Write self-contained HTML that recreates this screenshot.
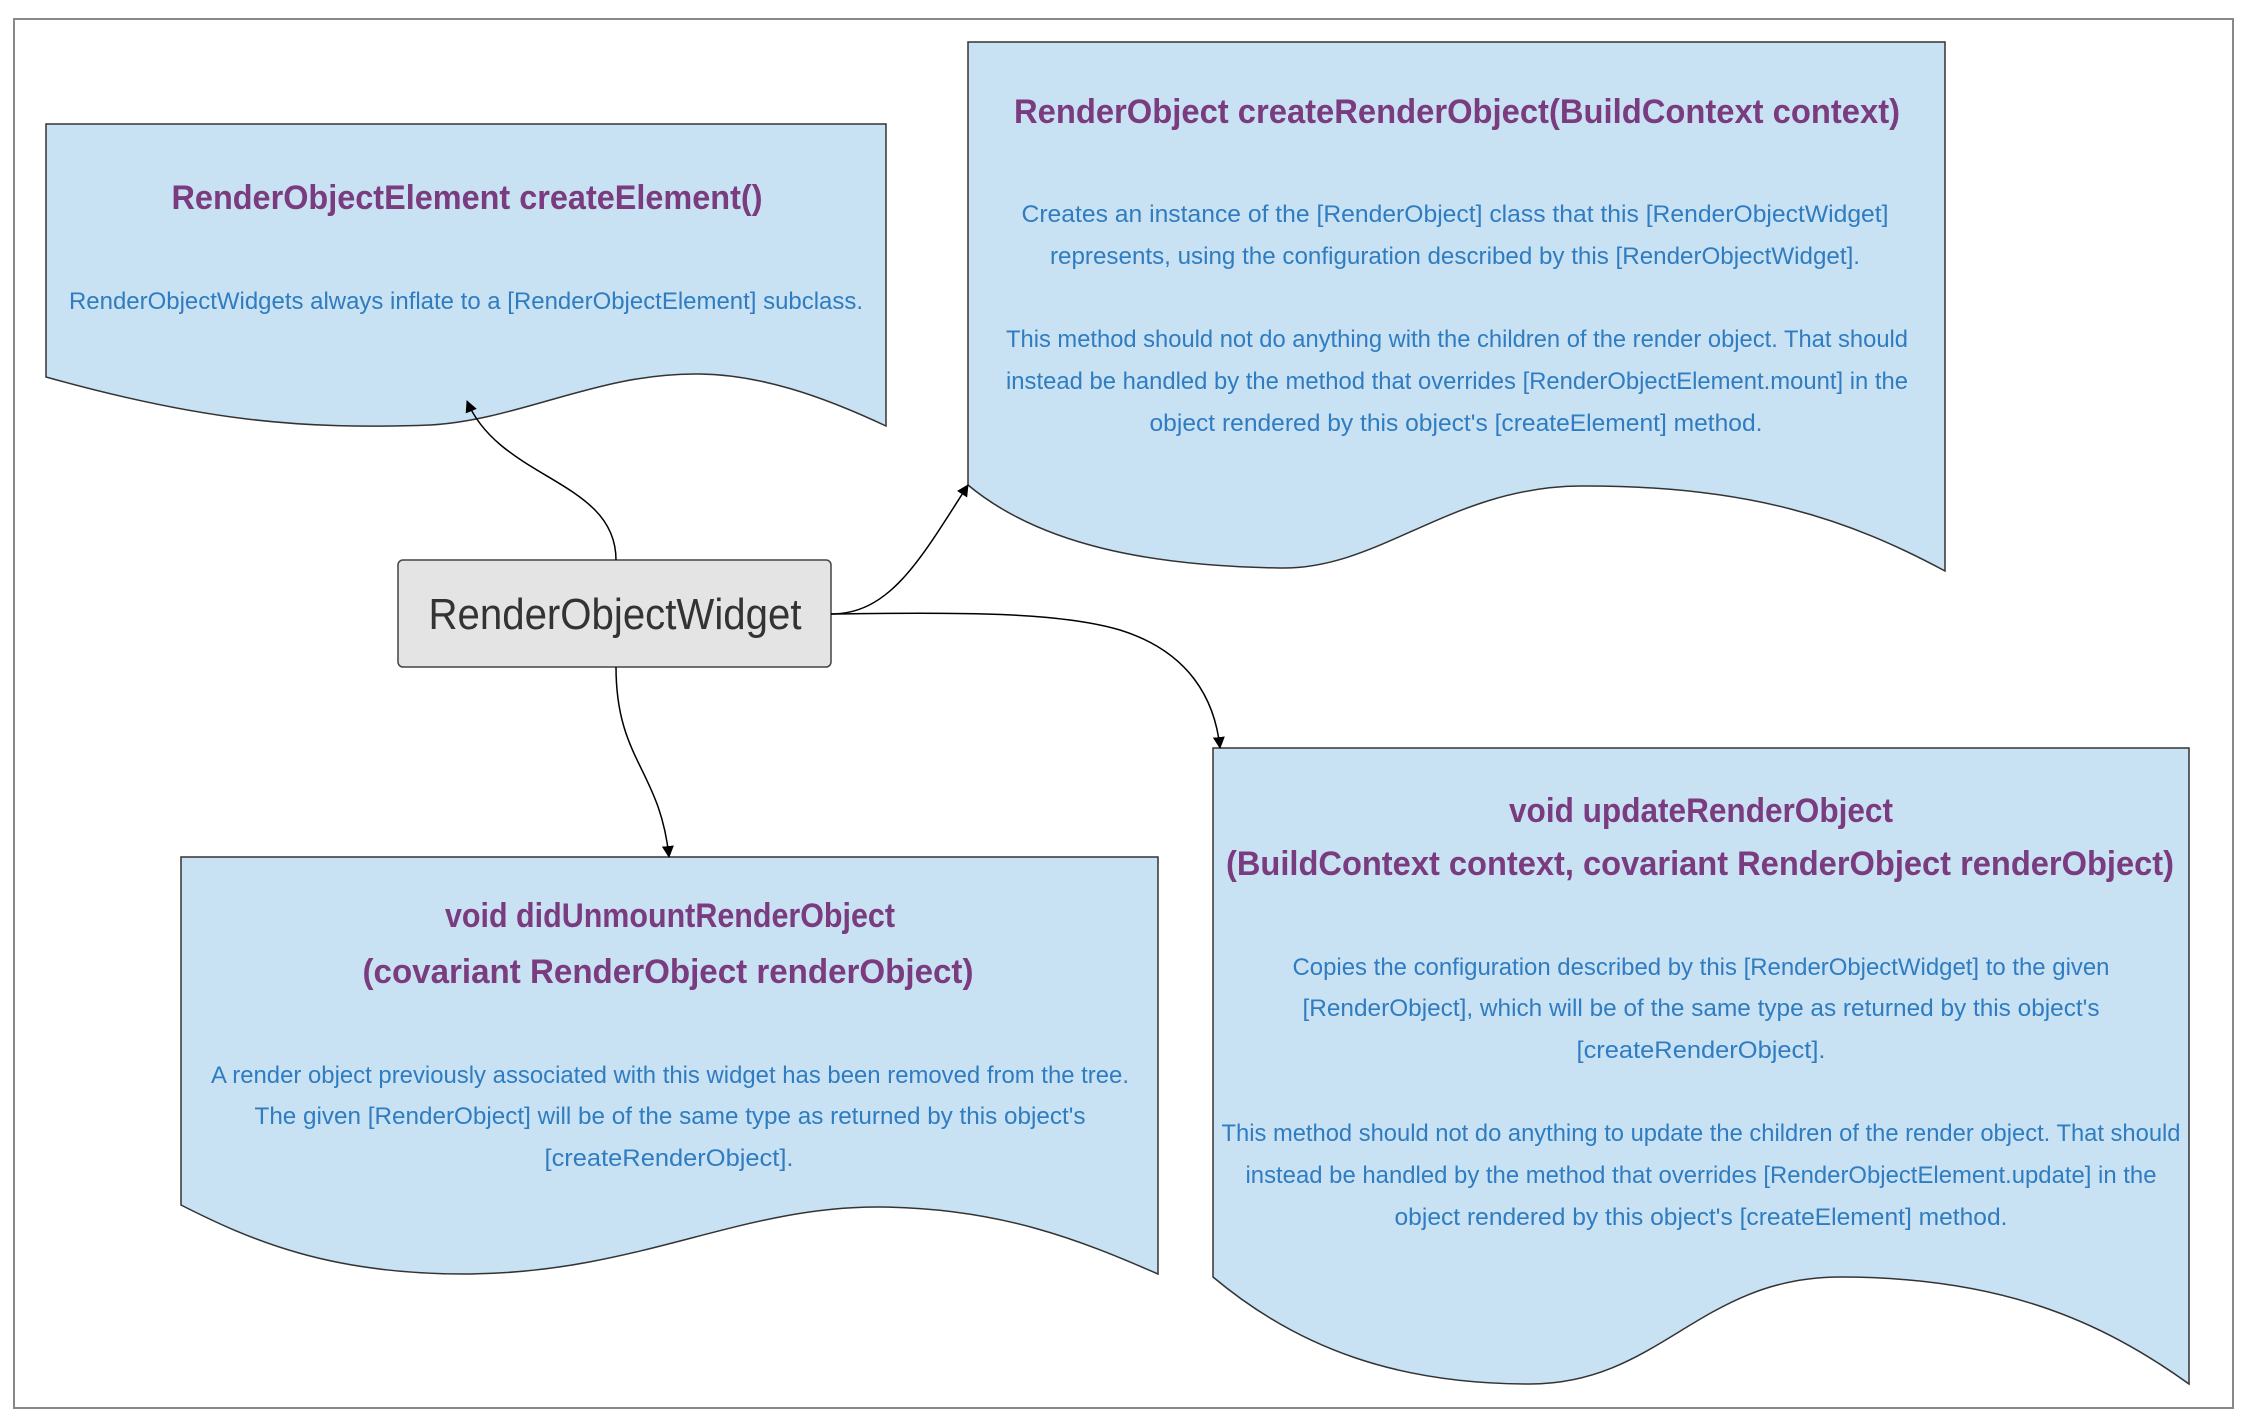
<!DOCTYPE html>
<html><head><meta charset="utf-8"><style>
html,body{margin:0;padding:0;background:#fff;width:2244px;height:1420px;overflow:hidden}
svg{display:block}
.t{font-family:"Liberation Sans Narrow","Liberation Sans",sans-serif;fill:#7a3b7f;font-weight:bold;font-size:34px;text-anchor:middle}
.b{font-family:"Liberation Sans Narrow","Liberation Sans",sans-serif;fill:#2f7cc0;font-size:24px;text-anchor:middle}
.doc{fill:#c8e2f4;stroke:#333;stroke-width:1.5}
</style></head><body>
<svg width="2244" height="1420" viewBox="0 0 2244 1420" xmlns="http://www.w3.org/2000/svg">
<defs><marker id="a" markerWidth="12" markerHeight="18" refX="11" refY="9" orient="auto" markerUnits="userSpaceOnUse"><path d="M0,3 L12,9 L0,15 Z" fill="#000"/></marker></defs>
<rect x="14" y="19" width="2219" height="1389" fill="#fff" stroke="#888" stroke-width="2"/>

<!-- Box1 -->
<path class="doc" d="M46,124 H886 V426 C820,395 760,375 700,374 C600,372 520,420 430,425 C300,430 200,420 46,377 Z"/>
<text class="t" x="467" y="209" textLength="591" lengthAdjust="spacingAndGlyphs">RenderObjectElement createElement()</text>
<text class="b" x="466" y="309" textLength="794" lengthAdjust="spacingAndGlyphs">RenderObjectWidgets always inflate to a [RenderObjectElement] subclass.</text>

<!-- Box2 -->
<path class="doc" d="M968,42 H1945 V571 C1850,520 1750,485 1580,486 C1450,487 1380,570 1280,568 C1150,566 1040,545 968,485 Z"/>
<text class="t" x="1457" y="123" textLength="886" lengthAdjust="spacingAndGlyphs">RenderObject createRenderObject(BuildContext context)</text>
<text class="b" x="1455" y="222" textLength="867" lengthAdjust="spacingAndGlyphs">Creates an instance of the [RenderObject] class that this [RenderObjectWidget]</text>
<text class="b" x="1455" y="264" textLength="810" lengthAdjust="spacingAndGlyphs">represents, using the configuration described by this [RenderObjectWidget].</text>
<text class="b" x="1457" y="347" textLength="902" lengthAdjust="spacingAndGlyphs">This method should not do anything with the children of the render object. That should</text>
<text class="b" x="1457" y="389" textLength="902" lengthAdjust="spacingAndGlyphs">instead be handled by the method that overrides [RenderObjectElement.mount] in the</text>
<text class="b" x="1456" y="431" textLength="613" lengthAdjust="spacingAndGlyphs">object rendered by this object's [createElement] method.</text>

<!-- Widget -->
<rect x="398" y="560" width="433" height="107" rx="5" fill="#e4e4e4" stroke="#444" stroke-width="1.5"/>
<text x="615" y="629" font-family="'Liberation Sans Narrow','Liberation Sans',sans-serif" font-size="44" fill="#333" text-anchor="middle" textLength="373" lengthAdjust="spacingAndGlyphs">RenderObjectWidget</text>

<!-- Box3 -->
<path class="doc" d="M181,857 H1158 V1274 C1080,1240 1000,1208 880,1207 C740,1206 640,1272 470,1274 C330,1275 250,1240 181,1205 Z"/>
<text class="t" x="670" y="927" textLength="450" lengthAdjust="spacingAndGlyphs">void didUnmountRenderObject</text>
<text class="t" x="668" y="983" textLength="611" lengthAdjust="spacingAndGlyphs">(covariant RenderObject renderObject)</text>
<text class="b" x="670" y="1083" textLength="918" lengthAdjust="spacingAndGlyphs">A render object previously associated with this widget has been removed from the tree.</text>
<text class="b" x="670" y="1124" textLength="831" lengthAdjust="spacingAndGlyphs">The given [RenderObject] will be of the same type as returned by this object's</text>
<text class="b" x="669" y="1166" textLength="249" lengthAdjust="spacingAndGlyphs">[createRenderObject].</text>

<!-- Box4 -->
<path class="doc" d="M1213,748 H2189 V1384 C2100,1320 2000,1277 1840,1277 C1700,1277 1660,1384 1530,1384 C1400,1384 1300,1350 1213,1277 Z"/>
<text class="t" x="1701" y="822" textLength="384" lengthAdjust="spacingAndGlyphs">void updateRenderObject</text>
<text class="t" x="1700" y="875" textLength="948" lengthAdjust="spacingAndGlyphs">(BuildContext context, covariant RenderObject renderObject)</text>
<text class="b" x="1701" y="975" textLength="817" lengthAdjust="spacingAndGlyphs">Copies the configuration described by this [RenderObjectWidget] to the given</text>
<text class="b" x="1701" y="1016" textLength="797" lengthAdjust="spacingAndGlyphs">[RenderObject], which will be of the same type as returned by this object's</text>
<text class="b" x="1701" y="1058" textLength="249" lengthAdjust="spacingAndGlyphs">[createRenderObject].</text>
<text class="b" x="1701" y="1141" textLength="959" lengthAdjust="spacingAndGlyphs">This method should not do anything to update the children of the render object. That should</text>
<text class="b" x="1701" y="1183" textLength="911" lengthAdjust="spacingAndGlyphs">instead be handled by the method that overrides [RenderObjectElement.update] in the</text>
<text class="b" x="1701" y="1225" textLength="613" lengthAdjust="spacingAndGlyphs">object rendered by this object's [createElement] method.</text>

<!-- connectors -->
<g fill="none" stroke="#000" stroke-width="1.5" marker-end="url(#a)">
<path d="M616,560 C616,480 500,480 467,401"/>
<path d="M831,614 C890,614 920,560 968,485"/>
<path d="M831,614 C960,612 1060,612 1120,630 C1190,652 1215,700 1220,748"/>
<path d="M616,667 C616,760 660,770 669,857"/>
</g>
</svg>
</body></html>
